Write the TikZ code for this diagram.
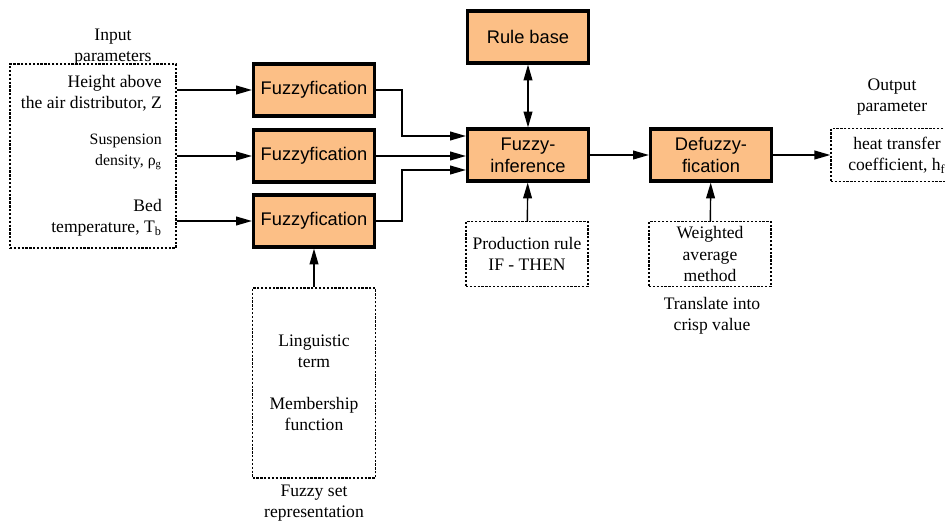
\documentclass[tikz,border=0pt]{standalone}
\usepackage{fontspec}
\setmainfont{Liberation Serif}
\setsansfont{Liberation Sans}
\usetikzlibrary{arrows.meta}
\definecolor{fuzzorange}{RGB}{252,191,134}

\begin{document}
\begin{tikzpicture}[x=0.2mm, y=-0.2mm,
	block/.style={draw, line width=1.8pt, fill=fuzzorange, font=\sffamily\fontsize{10.4}{12.4}\selectfont, align=center,
	minimum width=24.2mm, minimum height=10.4mm, inner sep=1pt},
	dbox/.style={draw, line width=0.8pt, dash pattern=on 1.3pt off 0.9pt, align=center,
	minimum width=24.4mm, minimum height=13mm, inner sep=1pt},
	arr/.style={line width=0.8pt, -{Triangle[length=9pt, width=5pt]}},
	arrboth/.style={line width=0.8pt, {Triangle[length=9pt, width=5pt]}-{Triangle[length=9pt, width=5pt]}}]
\useasboundingbox (0,0) rectangle (945,526);
% orange blocks
\node[block] (rule) at (528,37) {Rule base};
\node[block] (fz1) at (314,90) {Fuzzyfication};
\node[block] (fz2) at (314,156) {Fuzzyfication};
\node[block] (fz3) at (314,221) {Fuzzyfication};
\node[block] (inf) at (528,155) {Fuzzy-\\inference};
\node[block] (defz) at (711,155) {Defuzzy-\\fication};
% dotted boxes
\node[dbox, minimum width=33.2mm, minimum height=36.8mm] (inbox) at (93,156) {};
\node[dbox] (prod) at (527,254) {Production rule\\IF - THEN};
\node[dbox] (wavg) at (710,254) {Weighted\\average\\method};
\node[dbox, minimum width=24.6mm, minimum height=38mm] (fset) at (314,383) {Linguistic\\term\\[12pt]Membership\\function};
\node[dbox, minimum width=26.4mm, minimum height=10.6mm] (outp) at (897,155) {heat transfer\\coefficient, h\textsubscript{f}};
% input texts
\node[anchor=east, align=right] (zin) at (168,93) {Height above\\the air distributor, Z};
\node[anchor=east, align=right, font=\fontsize{9}{12}\selectfont] (rhoin) at (168,152) {Suspension\\density, ρ\textsubscript{g}};
\node[anchor=east, align=right] (tin) at (168,218) {Bed\\temperature, T\textsubscript{b}};
% captions
\node[align=center] (inlbl) at (113,47) {Input\\parameters};
\node[align=center] (outlbl) at (892,97) {Output\\parameter};
\node[align=center] (translbl) at (712,316) {Translate into\\crisp value};
\node[align=center] (fsetlbl) at (314,503) {Fuzzy set\\representation};
% connectors
\draw[arr] (inbox.east |- fz1) -- (fz1);
\draw[arr] (inbox.east |- fz2) -- (fz2);
\draw[arr] (inbox.east |- fz3) -- (fz3);
\draw[arr] (fz1.east) -- ++(26,0) |- ([yshift=3.8mm]inf.west);
\draw[arr] (fz2.east) -- (fz2.east -| inf.west);
\draw[arr] (fz3.east) -- ++(26,0) |- ([yshift=-3mm]inf.west);
\draw[arrboth] (rule) -- (inf);
\draw[arr] (prod) -- (inf);
\draw[arr] (inf) -- (defz);
\draw[arr] (wavg) -- (defz);
\draw[arr] (defz) -- (outp);
\draw[arr] (fset) -- (fz3);
\end{tikzpicture}
\end{document}
